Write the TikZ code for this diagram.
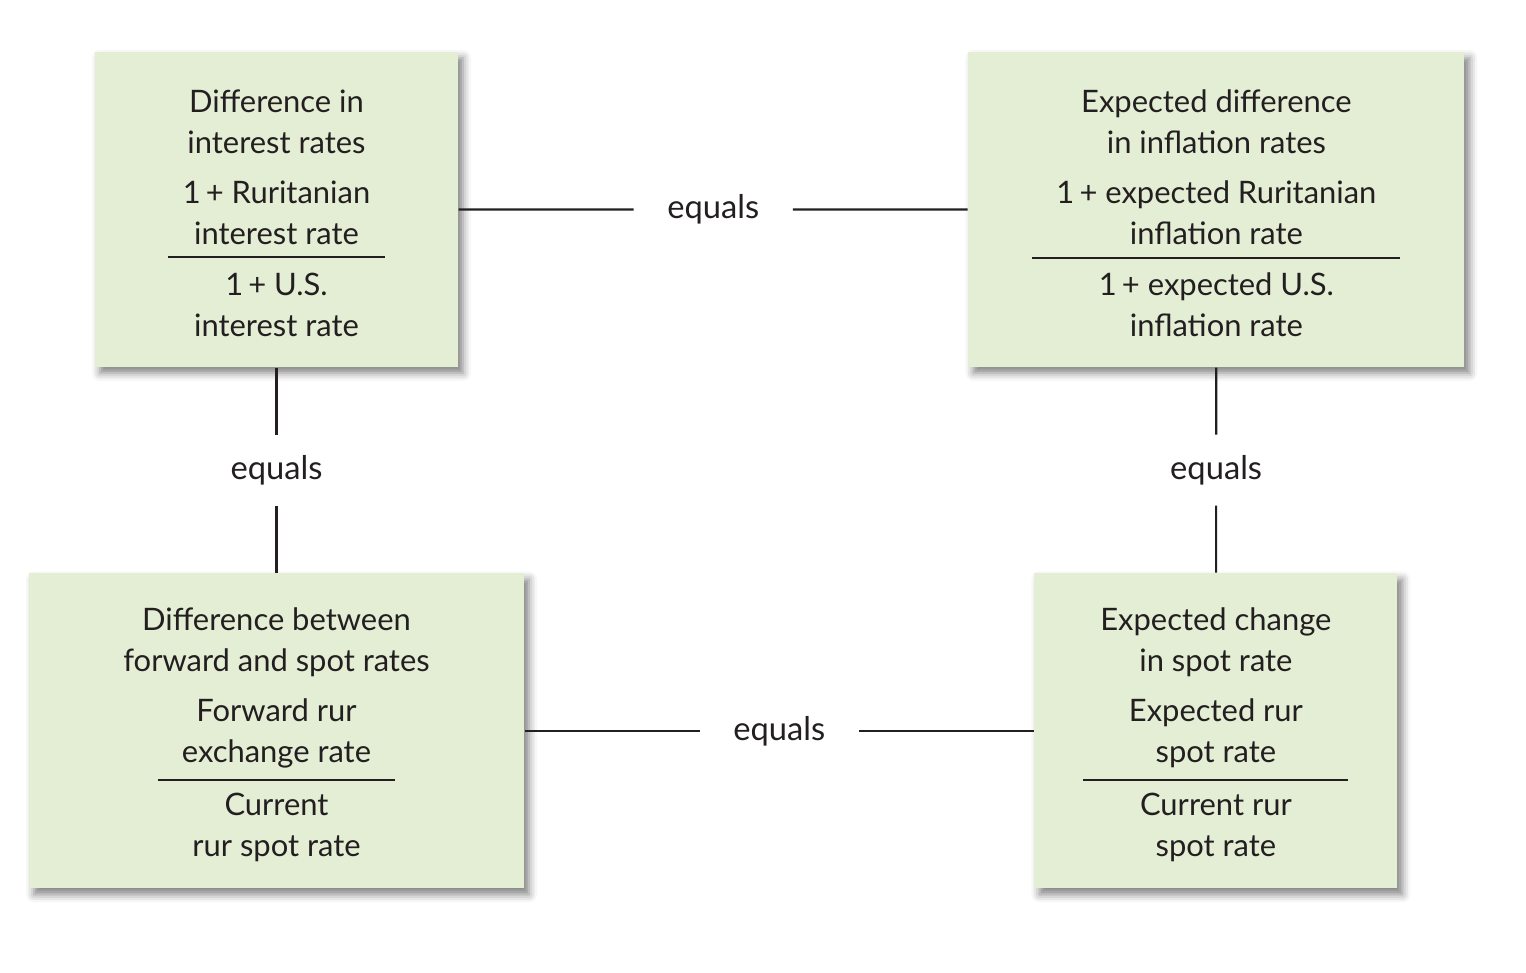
\documentclass[tikz,border=0pt]{standalone}
\usepackage{fontspec}
\setmainfont{Lato}
\usetikzlibrary{positioning, calc, shadows.blur}
\definecolor{greenBox}{RGB}{227,238,213}
\definecolor{inkGray}{RGB}{35,31,32}
\newcommand{\topstrut}{\rule{0pt}{0.31cm}}

\begin{document}
\begin{tikzpicture}[
    box/.style={rectangle, fill=greenBox, minimum height=3.15cm, inner sep=0pt, align=center, text=inkGray,
        font=\fontsize{8.8pt}{11.66pt}\selectfont,
        blur shadow={shadow xshift=0.05cm, shadow yshift=-0.06cm, shadow blur radius=0.08cm, shadow opacity=50}},
    eq/.style={text=inkGray, font=\fontsize{9.3pt}{11.66pt}\selectfont, inner xsep=0.33cm, inner ysep=0.2cm},
    link/.style={draw=inkGray, line width=0.6pt}
]
\useasboundingbox (0,0) rectangle (15.26,9.72);

\node[box, minimum width=3.63cm] (intdiff) at (2.765,7.625) {\topstrut Difference in\\interest rates\\[0.09cm]1\,+ Ruritanian\\interest rate\\[-0.28cm]\rule{2.17cm}{0.6pt}\\[-0.03cm]1\,+ U.S.\\interest rate};
\node[box, minimum width=4.96cm, right=5.09cm of intdiff] (infdiff) {\topstrut Expected difference\\in inflation rates\\[0.09cm]1\,+ expected Ruritanian\\inflation rate\\[-0.27cm]\rule{3.68cm}{0.6pt}\\[-0.04cm]1\,+ expected U.S.\\inflation rate};
\node[box, minimum width=4.95cm, below=2.05cm of intdiff] (fwdspot) {\topstrut Difference between\\forward and spot rates\\[0.09cm]Forward rur\\exchange rate\\[-0.23cm]\rule{2.38cm}{0.6pt}\\[-0.06cm]Current\\rur spot rate};
\node[box, minimum width=3.63cm, right=5.09cm of fwdspot] (spotchg) {\topstrut Expected change\\in spot rate\\[0.09cm]Expected rur\\spot rate\\[-0.23cm]\rule{2.65cm}{0.6pt}\\[-0.06cm]Current rur\\spot rate};

% the "equals" links
\node[eq] (eqtop) at ($(intdiff.east)!0.5!(infdiff.west)$) {equals};
\node[eq] (eqleft) at ($(intdiff.south)!0.5!(fwdspot.north)$) {equals};
\node[eq] (eqright) at ($(infdiff.south)!0.5!(spotchg.north)$) {equals};
\node[eq] (eqbottom) at ($(fwdspot.east)!0.5!(spotchg.west)$) {equals};

\draw[link] (intdiff) -- (eqtop) -- (infdiff);
\draw[link] (intdiff) -- (eqleft) -- (fwdspot);
\draw[link] (infdiff) -- (eqright) -- (spotchg);
\draw[link] (fwdspot) -- (eqbottom) -- (spotchg);
\end{tikzpicture}
\end{document}
